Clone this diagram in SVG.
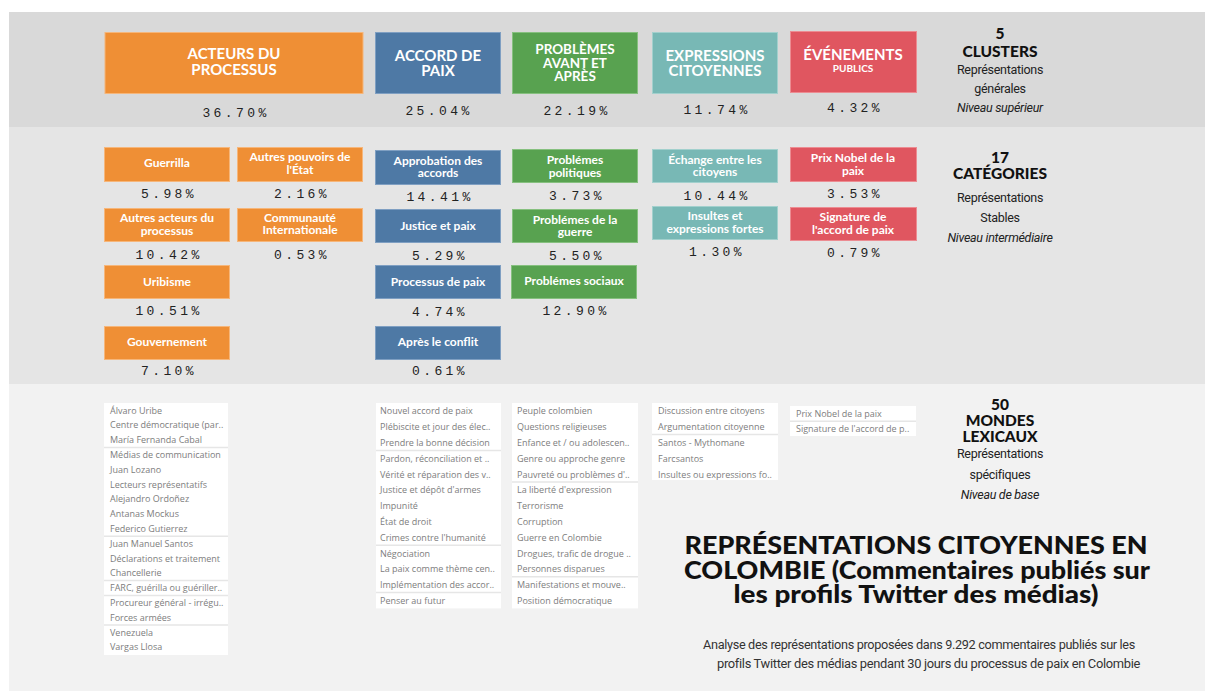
<svg xmlns="http://www.w3.org/2000/svg" width="1205" height="693" viewBox="0 0 1205 693">
<style>
.lbl{font-family:Lato,"Liberation Sans",sans-serif;font-weight:700;fill:#fff;text-anchor:middle}
.top{font-size:15px}
.cat{font-size:12px}
.pct{font-family:"Liberation Mono","DejaVu Sans Mono",monospace;font-size:13px;letter-spacing:3.4px;fill:#222;text-anchor:middle}
.hd{font-family:Lato,"Liberation Sans",sans-serif;font-weight:900;font-size:15.5px;fill:#111;text-anchor:middle}
.sub{font-family:Roboto,"Liberation Sans",sans-serif;font-size:12.5px;fill:#222;text-anchor:middle;letter-spacing:-0.3px}
.it{font-style:italic}
.or{fill:#ef8f35;stroke:#f6b67a;stroke-width:1}
.bl{fill:#4e79a5;stroke:#7f9fc2;stroke-width:1}
.gr{fill:#58a250;stroke:#86c07f;stroke-width:1}
.te{fill:#78b8b5;stroke:#a2d0cd;stroke-width:1}
.re{fill:#e05660;stroke:#ec8c92;stroke-width:1}
.lst{fill:#fff}
.sep{stroke:#e6e6e6;stroke-width:1.5}
.wd{font-family:"Open Sans","Liberation Sans",sans-serif;font-size:9px;fill:#7d7d7d}
.ttl{font-family:Lato,"Liberation Sans",sans-serif;font-weight:900;font-size:24px;fill:#111;text-anchor:middle}
.ana{font-family:Roboto,"Liberation Sans",sans-serif;font-size:12px;fill:#333;text-anchor:start;letter-spacing:-0.3px}
</style>
<rect x="0" y="0" width="1205" height="693" fill="#fff"/>
<rect x="9" y="12" width="1196" height="115" fill="#d9d9d9"/>
<rect x="9" y="127" width="1196" height="257" fill="#e5e5e5"/>
<rect x="9" y="384" width="1196" height="307" fill="#f2f2f2"/>

<!-- Clusters -->
<g id="cluster-acteurs">
<rect class="or" x="105" y="32.5" width="258" height="61"/>
<text class="lbl top" x="234" y="59">ACTEURS DU<tspan x="234" dy="16">PROCESSUS</tspan></text>
<text class="pct" x="236" y="117">36.70%</text>
</g>
<g id="cluster-accord">
<rect class="bl" x="375.5" y="32.5" width="125" height="61"/>
<text class="lbl top" x="438" y="61">ACCORD DE<tspan x="438" dy="15">PAIX</tspan></text>
<text class="pct" x="439" y="115">25.04%</text>
</g>
<g id="cluster-problemes">
<rect class="gr" x="512.5" y="32.5" width="125" height="61"/>
<text class="lbl" style="font-size:13.5px" x="575" y="54">PROBLÈMES<tspan x="575" dy="13.5">AVANT ET</tspan><tspan x="575" dy="13.5">APRÈS</tspan></text>
<text class="pct" x="577" y="115">22.19%</text>
</g>
<g id="cluster-expressions">
<rect class="te" x="652.5" y="32.5" width="125" height="61"/>
<text class="lbl top" x="715" y="61">EXPRESSIONS<tspan x="715" dy="15">CITOYENNES</tspan></text>
<text class="pct" x="717" y="114">11.74%</text>
</g>
<g id="cluster-evenements">
<rect class="re" x="790.5" y="31.5" width="126" height="61"/>
<text class="lbl top" x="853" y="60">ÉVÉNEMENTS<tspan x="853" dy="12" style="font-size:10px">PUBLICS</tspan></text>
<text class="pct" x="855" y="112">4.32%</text>
</g>
<g id="legend-clusters">
<text class="hd" x="1000" y="39">5<tspan x="1000" dy="18">CLUSTERS</tspan></text>
<text class="sub" x="1000" y="73.5">Représentations</text>
<text class="sub" x="1000" y="93">générales</text>
<text class="sub it" x="1000" y="112">Niveau supérieur</text>
</g>

<!-- Catégories -->
<g id="cat-guerrilla">
<rect class="or" x="104.5" y="147.5" width="125" height="34"/>
<text class="lbl cat" x="167" y="167">Guerrilla</text>
<text class="pct" x="169" y="198">5.98%</text>
</g>
<g id="cat-autres-acteurs">
<rect class="or" x="104.5" y="208.5" width="125" height="33"/>
<text class="lbl cat" x="167" y="222">Autres acteurs du<tspan x="167" dy="12.5">processus</tspan></text>
<text class="pct" x="169" y="259">10.42%</text>
</g>
<g id="cat-uribisme">
<rect class="or" x="104.5" y="265.5" width="125" height="33"/>
<text class="lbl cat" x="167" y="286">Uribisme</text>
<text class="pct" x="169" y="315">10.51%</text>
</g>
<g id="cat-gouvernement">
<rect class="or" x="104.5" y="326.5" width="125" height="33"/>
<text class="lbl cat" x="167" y="346">Gouvernement</text>
<text class="pct" x="169" y="375">7.10%</text>
</g>
<g id="cat-autres-pouvoirs">
<rect class="or" x="237.5" y="147.5" width="125" height="34"/>
<text class="lbl cat" x="300" y="161">Autres pouvoirs de<tspan x="300" dy="12.5">l'État</tspan></text>
<text class="pct" x="302" y="198">2.16%</text>
</g>
<g id="cat-communaute">
<rect class="or" x="237.5" y="208.5" width="125" height="33"/>
<text class="lbl cat" x="300" y="221.5">Communauté<tspan x="300" dy="12.5">Internationale</tspan></text>
<text class="pct" x="302" y="259">0.53%</text>
</g>
<g id="cat-approbation">
<rect class="bl" x="375.5" y="150.5" width="125" height="34"/>
<text class="lbl cat" x="438" y="164.5">Approbation des<tspan x="438" dy="12.5">accords</tspan></text>
<text class="pct" x="440" y="201">14.41%</text>
</g>
<g id="cat-justice">
<rect class="bl" x="375.5" y="209.5" width="125" height="33"/>
<text class="lbl cat" x="438" y="230">Justice et paix</text>
<text class="pct" x="440" y="260">5.29%</text>
</g>
<g id="cat-processus">
<rect class="bl" x="375.5" y="265.5" width="125" height="33"/>
<text class="lbl cat" x="438" y="286">Processus de paix</text>
<text class="pct" x="440" y="316">4.74%</text>
</g>
<g id="cat-apres">
<rect class="bl" x="375.5" y="326.5" width="125" height="33"/>
<text class="lbl cat" x="438" y="346">Après le conflit</text>
<text class="pct" x="440" y="375">0.61%</text>
</g>
<g id="cat-politiques">
<rect class="gr" x="512.5" y="149.5" width="125" height="33"/>
<text class="lbl cat" x="575" y="164">Problémes<tspan x="575" dy="12.5">politiques</tspan></text>
<text class="pct" x="577" y="200">3.73%</text>
</g>
<g id="cat-guerre">
<rect class="gr" x="512.5" y="209.5" width="125" height="33"/>
<text class="lbl cat" x="575" y="223.5">Problémes de la<tspan x="575" dy="12.5">guerre</tspan></text>
<text class="pct" x="577" y="260">5.50%</text>
</g>
<g id="cat-sociaux">
<rect class="gr" x="511.5" y="265.5" width="125" height="33"/>
<text class="lbl cat" x="574" y="285">Problémes sociaux</text>
<text class="pct" x="576" y="315">12.90%</text>
</g>
<g id="cat-echange">
<rect class="te" x="652.5" y="149.5" width="125" height="33"/>
<text class="lbl cat" x="715" y="163.5">Échange entre les<tspan x="715" dy="12.5">citoyens</tspan></text>
<text class="pct" x="717" y="200">10.44%</text>
</g>
<g id="cat-insultes">
<rect class="te" x="652.5" y="206.5" width="125" height="33"/>
<text class="lbl cat" x="715" y="220">Insultes et<tspan x="715" dy="12.5">expressions fortes</tspan></text>
<text class="pct" x="717" y="256">1.30%</text>
</g>
<g id="cat-nobel">
<rect class="re" x="790.5" y="147.5" width="126" height="34"/>
<text class="lbl cat" x="853" y="161.5">Prix Nobel de la<tspan x="853" dy="13">paix</tspan></text>
<text class="pct" x="855" y="198">3.53%</text>
</g>
<g id="cat-signature">
<rect class="re" x="790.5" y="207.5" width="126" height="33"/>
<text class="lbl cat" x="853" y="221">Signature de<tspan x="853" dy="12.5">l'accord de paix</tspan></text>
<text class="pct" x="855" y="257">0.79%</text>
</g>
<g id="legend-categories">
<text class="hd" x="1000" y="163">17<tspan x="1000" dy="16">CATÉGORIES</tspan></text>
<text class="sub" x="1000" y="201.5">Représentations</text>
<text class="sub" x="1000" y="221.5">Stables</text>
<text class="sub it" x="1000" y="241.5">Niveau intermédiaire</text>
</g>

<!-- Mondes lexicaux -->
<g id="mondes-acteurs">
<rect class="lst" x="104" y="403" width="124" height="252"/>
<line class="sep" x1="104" y1="447.4" x2="228" y2="447.4"/>
<line class="sep" x1="104" y1="536.2" x2="228" y2="536.2"/>
<line class="sep" x1="104" y1="580.6" x2="228" y2="580.6"/>
<line class="sep" x1="104" y1="595.4" x2="228" y2="595.4"/>
<line class="sep" x1="104" y1="625" x2="228" y2="625"/>
<text class="wd" x="110" y="413.5">Álvaro Uribe</text>
<text class="wd" x="110" y="428.3">Centre démocratique (par..</text>
<text class="wd" x="110" y="443.1">María Fernanda Cabal</text>
<text class="wd" x="110" y="457.9">Médias de communication</text>
<text class="wd" x="110" y="472.7">Juan Lozano</text>
<text class="wd" x="110" y="487.5">Lecteurs représentatifs</text>
<text class="wd" x="110" y="502.3">Alejandro Ordoñez</text>
<text class="wd" x="110" y="517.1">Antanas Mockus</text>
<text class="wd" x="110" y="531.9">Federico Gutierrez</text>
<text class="wd" x="110" y="546.7">Juan Manuel Santos</text>
<text class="wd" x="110" y="561.5">Déclarations et traitement</text>
<text class="wd" x="110" y="576.3">Chancellerie</text>
<text class="wd" x="110" y="591.1">FARC, guérilla ou guériller..</text>
<text class="wd" x="110" y="605.9">Procureur général - irrégu..</text>
<text class="wd" x="110" y="620.7">Forces armées</text>
<text class="wd" x="110" y="635.5">Venezuela</text>
<text class="wd" x="110" y="650.3">Vargas Llosa</text>
</g>
<g id="mondes-accord">
<rect class="lst" x="376" y="403" width="125" height="205.4"/>
<line class="sep" x1="376" y1="450.4" x2="501" y2="450.4"/>
<line class="sep" x1="376" y1="545.2" x2="501" y2="545.2"/>
<line class="sep" x1="376" y1="592.6" x2="501" y2="592.6"/>
<text class="wd" x="380" y="414.4">Nouvel accord de paix</text>
<text class="wd" x="380" y="430.2">Plébiscite et jour des élec..</text>
<text class="wd" x="380" y="446">Prendre la bonne décision</text>
<text class="wd" x="380" y="461.8">Pardon, réconciliation et ..</text>
<text class="wd" x="380" y="477.6">Vérité et réparation des v..</text>
<text class="wd" x="380" y="493.4">Justice et dépôt d'armes</text>
<text class="wd" x="380" y="509.2">Impunité</text>
<text class="wd" x="380" y="525">État de droit</text>
<text class="wd" x="380" y="540.8">Crimes contre l'humanité</text>
<text class="wd" x="380" y="556.6">Négociation</text>
<text class="wd" x="380" y="572.4">La paix comme thème cen..</text>
<text class="wd" x="380" y="588.2">Implémentation des accor..</text>
<text class="wd" x="380" y="604">Penser au futur</text>
</g>
<g id="mondes-problemes">
<rect class="lst" x="512" y="403" width="126" height="205.4"/>
<line class="sep" x1="512" y1="482" x2="638" y2="482"/>
<line class="sep" x1="512" y1="576.8" x2="638" y2="576.8"/>
<text class="wd" x="517" y="414.4">Peuple colombien</text>
<text class="wd" x="517" y="430.2">Questions religieuses</text>
<text class="wd" x="517" y="446">Enfance et / ou adolescen..</text>
<text class="wd" x="517" y="461.8">Genre ou approche genre</text>
<text class="wd" x="517" y="477.6">Pauvreté ou problèmes d'..</text>
<text class="wd" x="517" y="493.4">La liberté d'expression</text>
<text class="wd" x="517" y="509.2">Terrorisme</text>
<text class="wd" x="517" y="525">Corruption</text>
<text class="wd" x="517" y="540.8">Guerre en Colombie</text>
<text class="wd" x="517" y="556.6">Drogues, trafic de drogue ..</text>
<text class="wd" x="517" y="572.4">Personnes disparues</text>
<text class="wd" x="517" y="588.2">Manifestations et mouve..</text>
<text class="wd" x="517" y="604">Position démocratique</text>
</g>
<g id="mondes-expressions">
<rect class="lst" x="652" y="403" width="126" height="77"/>
<line class="sep" x1="652" y1="434.6" x2="778" y2="434.6"/>
<text class="wd" x="658" y="414.4">Discussion entre citoyens</text>
<text class="wd" x="658" y="430.2">Argumentation citoyenne</text>
<text class="wd" x="658" y="446">Santos - Mythomane</text>
<text class="wd" x="658" y="461.8">Farcsantos</text>
<text class="wd" x="658" y="477.6">Insultes ou expressions fo..</text>
</g>
<g id="mondes-evenements">
<rect class="lst" x="790" y="406" width="126" height="30"/>
<line class="sep" x1="790" y1="421.2" x2="916" y2="421.2"/>
<text class="wd" x="796" y="416.8">Prix Nobel de la paix</text>
<text class="wd" x="796" y="432.3">Signature de l'accord de p..</text>
</g>
<g id="legend-mondes">
<text class="hd" x="1000" y="410">50<tspan x="1000" dy="16">MONDES</tspan><tspan x="1000" dy="15.5">LEXICAUX</tspan></text>
<text class="sub" x="1000" y="458">Représentations</text>
<text class="sub" x="1000" y="479">spécifiques</text>
<text class="sub it" x="1000" y="498.5">Niveau de base</text>
</g>

<g id="title">
<text class="ttl" x="916" y="554" textLength="463" lengthAdjust="spacingAndGlyphs">REPRÉSENTATIONS CITOYENNES EN</text>
<text class="ttl" x="917" y="579" textLength="466" lengthAdjust="spacingAndGlyphs">COLOMBIE (Commentaires publiés sur</text>
<text class="ttl" x="916" y="603" textLength="365" lengthAdjust="spacingAndGlyphs">les profils Twitter des médias)</text>
<text class="ana" x="703" y="649" textLength="432" lengthAdjust="spacingAndGlyphs">Analyse des représentations proposées dans 9.292 commentaires  publiés sur les</text>
<text class="ana" x="717" y="668" textLength="423" lengthAdjust="spacingAndGlyphs">profils Twitter  des médias pendant 30 jours du processus de paix en Colombie</text>
</g>
</svg>
